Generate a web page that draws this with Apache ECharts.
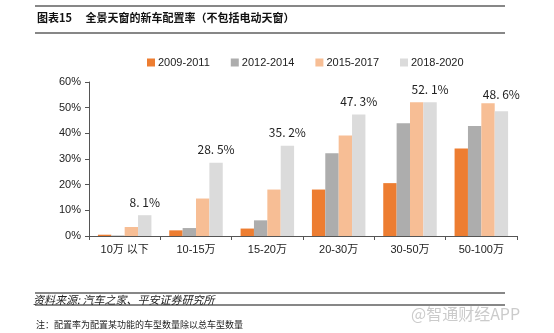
<!DOCTYPE html>
<html><head><meta charset="utf-8">
<script src="https://cdn.jsdelivr.net/npm/echarts@6/dist/echarts.min.js"></script>
<style>html,body{margin:0;padding:0;background:#fff}#c{width:554px;height:333px}</style>
</head><body><div id="c"></div>
<script>
const categories = ['10万 以下', '10-15万', '15-20万', '20-30万', '30-50万', '50-100万'];
const seriesNames = ['2009-2011', '2012-2014', '2015-2017', '2018-2020'];
const s2009 = [0.5, 2.2, 2.9, 18.1, 20.6, 34.1];
const s2012 = [0.2, 3.1, 6.1, 32.2, 43.9, 42.9];
const s2015 = [3.5, 14.6, 18.1, 39.2, 52.1, 51.7];
const s2018 = [8.1, 28.5, 35.2, 47.3, 52.1, 48.6];
const labels2018 = ['8. 1%', '28. 5%', '35. 2%', '47. 3%', '52. 1%', '48. 6%'];
const yTicks = [0, 10, 20, 30, 40, 50, 60];
const colors = ['#ED7D31', '#ADADAD', '#F7BE95', '#DBDBDB'];

const chart = echarts.init(document.getElementById('c'), null, {renderer: 'canvas'});
const allData = [s2009, s2012, s2015, s2018];
const font = 'Arial, "Liberation Sans", "Noto Sans CJK SC", sans-serif';
const series = seriesNames.map((n, i) => ({
  name: n, type: 'bar', data: allData[i], barGap: '0%', barCategoryGap: '25%',
  itemStyle: {color: colors[i]},
  label: i === 3 ? {
    show: true, position: 'top', distance: 7, color: '#222', fontSize: 12,
    fontFamily: '"Noto Sans CJK SC", sans-serif',
    formatter: p => labels2018[p.dataIndex]
  } : {show: false}
}));
// move last label above the taller peach bar
series[3].data = s2018.map((v, i) => i === 5 ? {value: v, label: {distance: 11}} : v);

chart.setOption({
  animation: false,
  legend: {
    data: seriesNames, top: 52, left: 142, itemWidth: 8, itemHeight: 8, itemGap: 21,
    icon: 'rect', textStyle: {fontSize: 11, color: '#222', fontFamily: font, padding: [0, 0, 0, -2]}
  },
  grid: {left: 89, right: 37, top: 82, bottom: 97},
  xAxis: {
    type: 'category', data: categories,
    axisLine: {lineStyle: {color: '#555', width: 1}},
    axisTick: {show: true, length: 4, lineStyle: {color: '#555'}},
    axisLabel: {color: '#222', fontSize: 11, margin: 8, fontFamily: font}
  },
  yAxis: {
    type: 'value', min: yTicks[0], max: yTicks[yTicks.length - 1], interval: 10,
    axisLine: {show: true, lineStyle: {color: '#555'}},
    axisTick: {show: true, length: 4, lineStyle: {color: '#555'}},
    splitLine: {show: false},
    axisLabel: {color: '#222', fontSize: 11, margin: 8, fontFamily: font, formatter: v => v + '%'}
  },
  series: series,
  graphic: [
    {type: 'line', shape: {x1: 35, y1: 6, x2: 505, y2: 6}, style: {stroke: '#111', lineWidth: 1.2}},
    {type: 'text', left: 37, top: 12, style: {text: '图表15　 全景天窗的新车配置率（不包括电动天窗）', font: 'bold 11px "Noto Sans CJK SC", sans-serif', fill: '#111'}},
    {type: 'line', shape: {x1: 35, y1: 33, x2: 505, y2: 33}, style: {stroke: '#111', lineWidth: 1.2}},
    {type: 'line', shape: {x1: 35, y1: 293, x2: 505, y2: 293}, style: {stroke: '#111', lineWidth: 1.2}},
    {type: 'text', left: 33, top: 294, style: {text: '资料来源: 汽车之家、平安证券研究所', font: 'italic 11px "Noto Sans CJK SC", sans-serif', fill: '#222'}},
    {type: 'line', shape: {x1: 35, y1: 305, x2: 505, y2: 305}, style: {stroke: '#111', lineWidth: 1.2}},
    {type: 'text', left: 411, top: 306, style: {text: '@智通财经APP', font: '16px "Noto Sans CJK SC", sans-serif', fill: 'rgba(190,190,190,0.8)'}},
    {type: 'text', left: 36, top: 320, style: {text: '注：配置率为配置某功能的车型数量除以总车型数量', font: '9px "Noto Sans CJK SC", sans-serif', fill: '#222'}}
  ]
});
</script></body></html>
